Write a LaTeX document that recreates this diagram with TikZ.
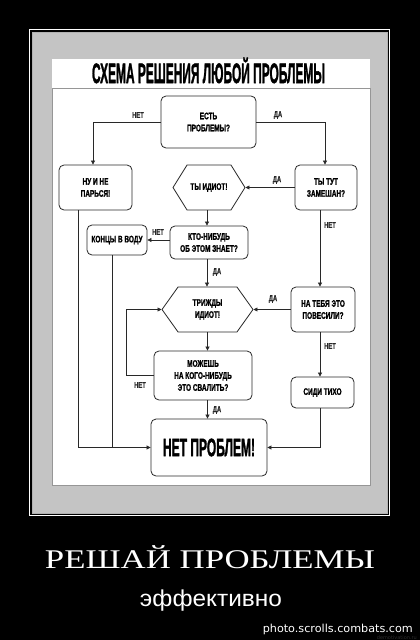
\documentclass[tikz,border=0pt]{standalone}
\usepackage{fontspec}
\usepackage{graphicx}
\usetikzlibrary{arrows.meta,shapes.symbols,calc}
\setmainfont{Liberation Sans}
\newfontfamily\condf{Liberation Sans Bold}[FakeStretch=0.68,FakeBold=1.2]
\newfontfamily\heavyf{Liberation Sans Bold}[FakeBold=2]
\newfontfamily\capserif{Liberation Serif}
\newfontfamily\lowsans{Liberation Sans}
\newfontfamily\wmark{DejaVu Sans}
\definecolor{panelgray}{RGB}{196,196,196}
\definecolor{ink}{RGB}{40,40,40}
\definecolor{areaedge}{RGB}{150,150,150}
\begin{document}
\begin{tikzpicture}[x=1pt,y=-1pt,
 box/.style={draw=ink, line width=0.8pt, rounded corners=5pt, fill=white, align=center,
   font=\condf\fontsize{9.5}{12}\selectfont, inner sep=0pt},
 hexa/.style={draw=ink, line width=0.8pt, signal, signal to=east and west, fill=white,
   align=center, font=\condf\fontsize{9.5}{12}\selectfont, inner sep=0pt},
 lbl/.style={font=\condf\fontsize{8.5}{9}\selectfont, text=ink, inner sep=0pt},
 conn/.style={draw=ink, line width=0.7pt},
 arr/.style={conn, -{Triangle[length=4pt,width=4pt]}}
]
\useasboundingbox (0,0) rectangle (420,640);
\fill[black] (0,0) rectangle (420,640);
% frame
\draw[white, line width=0.8pt] (29.5,29.5) rectangle (389.5,515.5);
\fill[panelgray] (31.5,31.5) rectangle (387.5,513.5);
\draw[gray!60, line width=0.5pt] (31.8,31.8) rectangle (387.2,513.2);
\fill[white] (52,59) rectangle (370,485);
\draw[areaedge, line width=0.6pt] (52,88) rectangle (370,485);
% title
\node[anchor=base, inner sep=0pt] (title) at (208.5,83)
  {\resizebox{233pt}{\height}{\heavyf\fontsize{28}{28}\selectfont СХЕМА РЕШЕНИЯ ЛЮБОЙ ПРОБЛЕМЫ}};
% nodes
\node[box, minimum width=95pt, minimum height=52pt] (q1) at (208.5,122) {ЕСТЬ\\ПРОБЛЕМЫ?};
\node[box, minimum width=73pt, minimum height=45pt] (n1) at (95.5,187.5) {НУ И НЕ\\ПАРЬСЯ!};
\node[box, minimum width=62pt, minimum height=45pt] (y1) at (326,187.5) {ТЫ ТУТ\\ЗАМЕШАН?};
\node[hexa, signal pointer angle=116, minimum width=72pt, minimum height=45pt] (h1) at (209,187.5) {ТЫ ИДИОТ!};
\node[box, minimum width=78pt, minimum height=33pt] (k1) at (209,242.5) {КТО-НИБУДЬ\\ОБ ЭТОМ ЗНАЕТ?};
\node[box, minimum width=60pt, minimum height=30pt] (c1) at (117,240) {КОНЦЫ В ВОДУ};
\node[hexa, signal pointer angle=109, minimum width=91pt, minimum height=45pt] (h2) at (207.5,309.5) {ТРИЖДЫ\\ИДИОТ!};
\node[box, minimum width=64pt, minimum height=45pt] (p1) at (323,309.5) {НА ТЕБЯ ЭТО\\ПОВЕСИЛИ?};
\node[box, minimum width=98pt, minimum height=49pt] (m1) at (203,375.5) {МОЖЕШЬ\\НА КОГО-НИБУДЬ\\ЭТО СВАЛИТЬ?};
\node[box, minimum width=63pt, minimum height=31pt] (s1) at (322.5,392.5) {СИДИ ТИХО};
\node[box, minimum width=116pt, minimum height=57pt] (e1) at (209,447.5)
  {\resizebox{92pt}{\height}{\heavyf\fontsize{25}{25}\selectfont НЕТ ПРОБЛЕМ!}};
% connectors
\draw[arr] (q1.west) -| ([xshift=-2.5pt]n1.north);
\draw[arr] (q1.east) -| ([xshift=-1pt]y1.north);
\draw[arr] (y1.west) -- (h1.east);
\draw[arr] ([xshift=-2pt]h1.south) -- ([xshift=-2pt]h1.south |- k1.north);
\draw[arr] (k1.west |- c1.east) -- (c1.east);
\draw[arr] ([xshift=-2pt]k1.south) -- ([xshift=-2pt]k1.south |- h2.north);
\draw[arr] ([xshift=-6pt]y1.south) -- ([xshift=-6pt]y1.south |- p1.north);
\draw[arr] (p1.west) -- (h2.east);
\draw[arr] ([xshift=-3pt]p1.south) -- ([xshift=-3pt]p1.south |- s1.north);
\draw[arr] (h2.south) -- (h2.south |- m1.north);
\draw[arr] (m1.west) -- ++(-27,0) |- (h2.west);
\draw[arr] (h2.south |- m1.south) -- (h2.south |- e1.north);
\draw[arr] ([xshift=-17.5pt]n1.south) |- (e1.west);
\draw[conn] ([xshift=-5pt]c1.south) -- ([xshift=-5pt]c1.south |- e1.west);
\draw[arr] ([xshift=-2.5pt]s1.south) |- (e1.east);
% labels
\node[lbl] (l1) at (138,115) {НЕТ};
\node[lbl] (l2) at (278,115) {ДА};
\node[lbl] (l3) at (277,180) {ДА};
\node[lbl] (l4) at (158,232) {НЕТ};
\node[lbl] (l5) at (217,272) {ДА};
\node[lbl] (l6) at (330,225) {НЕТ};
\node[lbl] (l7) at (273,299) {ДА};
\node[lbl] (l8) at (330,346) {НЕТ};
\node[lbl] (l9) at (217,410) {ДА};
\node[lbl] (l10) at (140,385) {НЕТ};
% caption
\node[anchor=base, inner sep=0pt, text=white] (cap) at (210,568)
  {\resizebox{330pt}{\height}{\capserif\fontsize{27}{27}\selectfont РЕШАЙ ПРОБЛЕМЫ}};
\node[anchor=base, inner sep=0pt, text=white] (sub) at (211,606)
  {\resizebox{142pt}{\height}{\lowsans\fontsize{23}{23}\selectfont эффективно}};
\node[anchor=base east, inner sep=0pt, text=white] (wm) at (413,632)
  {\resizebox{150pt}{\height}{\wmark\fontsize{11}{11}\selectfont photo.scrolls.combats.com}};
\node[anchor=base east, inner sep=0pt, text=gray!35!black] (wm2) at (417,639.5)
  {\wmark\fontsize{5}{5}\selectfont demotivation.ru};
\end{tikzpicture}
\end{document}
